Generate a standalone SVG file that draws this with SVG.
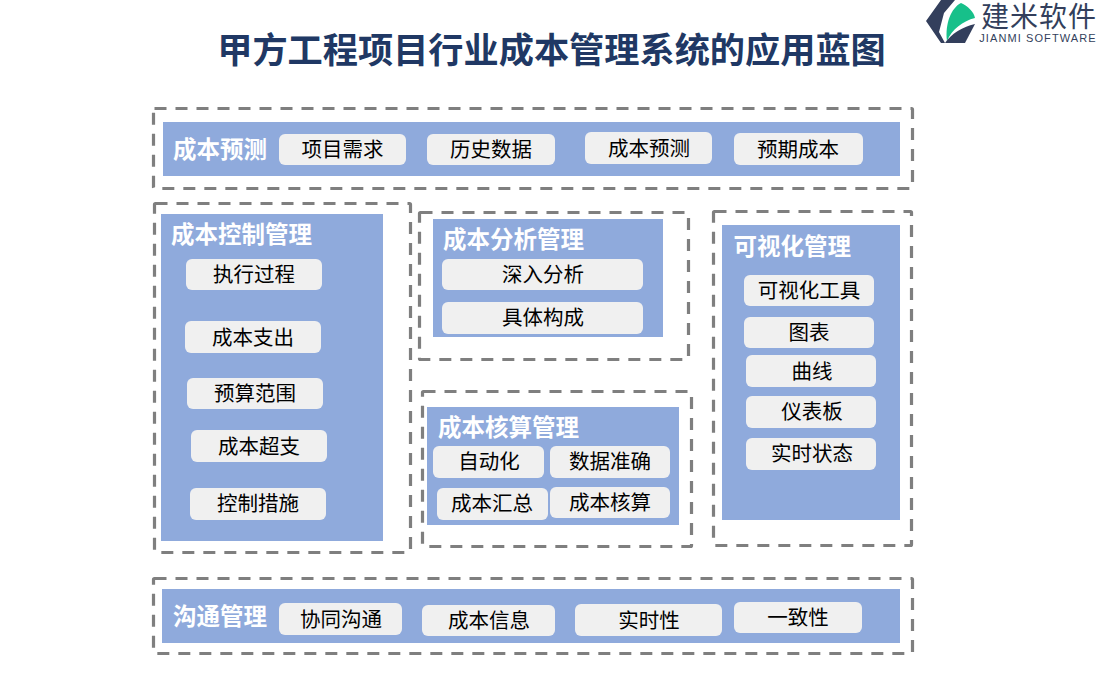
<svg xmlns="http://www.w3.org/2000/svg" width="1100" height="700" viewBox="0 0 1100 700">
<style>
text{font-family:"Noto Sans CJK SC","Noto Sans",sans-serif;text-anchor:middle}
.dash{fill:none;stroke:#7f7f7f;stroke-width:3.200;stroke-dasharray:12 9}
.panel{fill:#8faadc}
.chip{fill:#f0f0f0}
.c{font-size:20.500px;fill:#000;dominant-baseline:central}
.h{font-size:23.500px;font-weight:700;fill:#fff;text-anchor:start;dominant-baseline:central}
</style>
<rect width="1100" height="700" fill="#fff"/>
<text id="title" x="551.500" y="47.500" font-size="35.200" font-weight="700" fill="#203864" dominant-baseline="central">甲方工程项目行业成本管理系统的应用蓝图</text>
<g id="logo">
<path d="M941 0H955L944 13L939 32L945 43H941L926 21Z" fill="#333f5c"/>
<path d="M947 41C945 24 951 8 961 3C968 6 974 12 975 18C963 21 952 29 947 41Z" fill="#17c08a"/>
<path d="M975 24L965 43H945C951 34 962 27 975 24Z" fill="#333f5c"/>
<text x="1039" y="15" font-size="28" fill="#333f5c" dominant-baseline="central" letter-spacing="1">建米软件</text>
<text x="1038" y="38" font-size="11" fill="#333f5c" dominant-baseline="central" letter-spacing="1.100" style="font-family:'Liberation Sans',sans-serif">JIANMI SOFTWARE</text>
</g>
<g id="forecast">
<rect class="dash" x="153.500" y="108.500" width="759" height="80" rx="1"/>
<rect class="panel" x="163" y="122" width="737" height="54"/>
<text class="h" x="173" y="147.500">成本预测</text>
<rect class="chip" x="279" y="134" width="127" height="31" rx="6"/><text class="c" x="342.500" y="147.500">项目需求</text>
<rect class="chip" x="427" y="134" width="128" height="31" rx="6"/><text class="c" x="491" y="147.500">历史数据</text>
<rect class="chip" x="585" y="132" width="127" height="32" rx="6"/><text class="c" x="649" y="146.500">成本预测</text>
<rect class="chip" x="734" y="133" width="129" height="32" rx="6"/><text class="c" x="798" y="147.500">预期成本</text>
</g>
<g id="control">
<rect class="dash" x="154.500" y="203.500" width="256" height="349" rx="1"/>
<rect class="panel" x="161" y="214" width="222" height="327"/>
<text class="h" x="171" y="232.500">成本控制管理</text>
<rect class="chip" x="186" y="259" width="136" height="31" rx="6"/><text class="c" x="254" y="272.500">执行过程</text>
<rect class="chip" x="185" y="321" width="136" height="32" rx="6"/><text class="c" x="253" y="335.500">成本支出</text>
<rect class="chip" x="187" y="378" width="136" height="31" rx="6"/><text class="c" x="255" y="391.500">预算范围</text>
<rect class="chip" x="191" y="430" width="136" height="32" rx="6"/><text class="c" x="259" y="444.500">成本超支</text>
<rect class="chip" x="190" y="488" width="136" height="32" rx="6"/><text class="c" x="258" y="501.500">控制措施</text>
</g>
<g id="analysis">
<rect class="dash" x="419.500" y="212.500" width="269" height="147" rx="1"/>
<rect class="panel" x="433" y="219" width="230" height="118"/>
<text class="h" x="443" y="237.500">成本分析管理</text>
<rect class="chip" x="442" y="259" width="201" height="31" rx="6"/><text class="c" x="543" y="272.500">深入分析</text>
<rect class="chip" x="442" y="302" width="201" height="32" rx="6"/><text class="c" x="543" y="315.500">具体构成</text>
</g>
<g id="accounting">
<rect class="dash" x="422.500" y="391.500" width="269" height="155" rx="1"/>
<rect class="panel" x="427" y="407" width="252" height="118"/>
<text class="h" x="438" y="425.500">成本核算管理</text>
<rect class="chip" x="433" y="446" width="111" height="32" rx="6"/><text class="c" x="489" y="459.500">自动化</text>
<rect class="chip" x="550" y="446" width="120" height="32" rx="6"/><text class="c" x="610" y="459.500">数据准确</text>
<rect class="chip" x="437" y="488" width="111" height="32" rx="6"/><text class="c" x="492" y="501.500">成本汇总</text>
<rect class="chip" x="550" y="487" width="120" height="31" rx="6"/><text class="c" x="610" y="500.500">成本核算</text>
</g>
<g id="visual">
<rect class="dash" x="713.500" y="211.500" width="198" height="334" rx="1"/>
<rect class="panel" x="722" y="225" width="178" height="295"/>
<text class="h" x="733.500" y="244.500">可视化管理</text>
<rect class="chip" x="744" y="275" width="130" height="31" rx="6"/><text class="c" x="809" y="288.500">可视化工具</text>
<rect class="chip" x="744" y="317" width="130" height="31" rx="6"/><text class="c" x="809" y="330.500">图表</text>
<rect class="chip" x="746" y="355" width="130" height="32" rx="6"/><text class="c" x="812" y="369.500">曲线</text>
<rect class="chip" x="746" y="396" width="130" height="32" rx="6"/><text class="c" x="812" y="409.500">仪表板</text>
<rect class="chip" x="746" y="438" width="130" height="32" rx="6"/><text class="c" x="812" y="451.500">实时状态</text>
</g>
<g id="communication">
<rect class="dash" x="153.500" y="578.500" width="759" height="75" rx="1"/>
<rect class="panel" x="162" y="589" width="738" height="54"/>
<text class="h" x="173" y="614.500">沟通管理</text>
<rect class="chip" x="279" y="603" width="123" height="32" rx="6"/><text class="c" x="341" y="617.500">协同沟通</text>
<rect class="chip" x="422" y="605" width="133" height="31" rx="6"/><text class="c" x="489" y="618.500">成本信息</text>
<rect class="chip" x="575" y="604" width="147" height="32" rx="6"/><text class="c" x="649" y="618.500">实时性</text>
<rect class="chip" x="734" y="602" width="128" height="31" rx="6"/><text class="c" x="798" y="615.500">一致性</text>
</g>
<g id="connectors"/>
</svg>
